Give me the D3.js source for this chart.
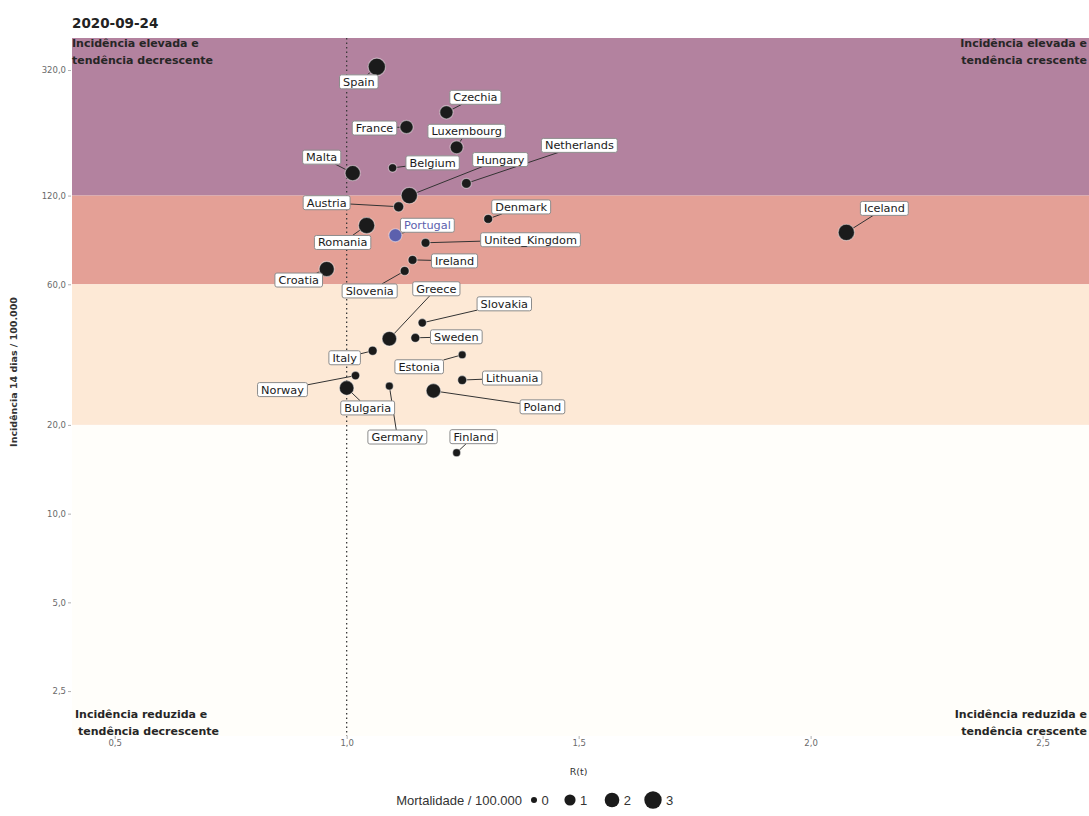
<!DOCTYPE html>
<html>
<head>
<meta charset="utf-8">
<script src="https://cdn.jsdelivr.net/npm/d3@7"></script>
<style>
  body { margin: 0; background: #fff; }
  svg { display: block; }
</style>
</head>
<body>
<svg id="chart" width="1089" height="816"></svg>
<script>
// ---- Data: R(t), 14-day incidence and mortality per 100 000, 2020-09-24 ----
const dateLabel = "2020-09-24";
const countries = ["Spain", "Czechia", "France", "Luxembourg", "Malta", "Belgium", "Netherlands",
  "Hungary", "Austria", "Romania", "Portugal", "Denmark", "United_Kingdom", "Ireland", "Croatia",
  "Slovenia", "Iceland", "Greece", "Slovakia", "Sweden", "Italy", "Estonia", "Norway", "Lithuania",
  "Bulgaria", "Germany", "Poland", "Finland"];
const rt = [1.065, 1.215, 1.129, 1.237, 1.013, 1.099, 1.258,
  1.135, 1.112, 1.043, 1.105, 1.305, 1.170, 1.142, 0.957,
  1.125, 2.077, 1.092, 1.163, 1.148, 1.056, 1.249, 1.019, 1.249,
  1.000, 1.092, 1.187, 1.237];
const incidence = [328, 230, 205, 175, 143, 149, 132,
  120, 110, 95, 88, 100, 83, 72.6, 67.6,
  66.6, 90, 39.2, 44.4, 39.5, 35.7, 34.6, 29.4, 28.4,
  26.7, 27.1, 26.1, 16.1];
const mortality = [3.0, 1.6, 1.6, 1.5, 2.2, 0.4, 0.7,
  2.6, 0.8, 2.6, 1.5, 0.5, 0.5, 0.5, 2.2,
  0.5, 2.6, 2.0, 0.4, 0.5, 0.5, 0.3, 0.4, 0.5,
  2.0, 0.3, 2.0, 0.3];
const highlighted = "Portugal";

const yTickValues = [320, 120, 60, 20, 10, 5, 2.5];
const xTickValues = [0.5, 1.0, 1.5, 2.0, 2.5];
const incidenceThresholds = [120, 60, 20];
const legendValues = [0, 1, 2, 3];

// ---- Layout ----
const panel = { left: 72, right: 1089, top: 38, bottom: 736 };
const xDomain = [0.408, 2.6];
const yDomain = [411, 1.76];

// label placement (pixel offset of each label's centre from its point)
const labelOffset = {
  Spain: [-18, 15], Czechia: [29, -15], France: [-32, 1], Luxembourg: [10, -16],
  Malta: [-31, -16], Belgium: [40, -5], Netherlands: [113, -38], Hungary: [91, -36],
  Austria: [-72, -4], Romania: [-24, 17], Portugal: [32, -10], Denmark: [33, -12],
  United_Kingdom: [105, -3], Ireland: [42, 1], Croatia: [-28, 11], Slovenia: [-35, 20],
  Iceland: [38, -24], Greece: [47, -50], Slovakia: [82, -19], Sweden: [41, -1],
  Italy: [-28, 7], Estonia: [-43, 12], Norway: [-73, 14], Lithuania: [50, -2],
  Bulgaria: [21, 20], Germany: [8, 51], Poland: [109, 16], Finland: [17, -16]
};

const bandColors = ["#b3829f", "#e4a096", "#fde9d6", "#fffefa"];
const pointColor = "#1b1b1b";
const highlightColor = "#5c60ad";
const font = "'DejaVu Sans', sans-serif";

const locale = d3.formatLocale({ decimal: ",", thousands: ".", grouping: [3], currency: ["", " €"] });
const fmt1 = locale.format(".1f");

const svg = d3.select("#chart");

const x = d3.scaleLinear().domain(xDomain).range([panel.left, panel.right]);
const y = d3.scaleLog().domain(yDomain).range([panel.top, panel.bottom]);
const r = d3.scaleRadial().domain([0, 3]).range([3, 8.7]);

svg.append("clipPath").attr("id", "panelClip")
  .append("rect")
  .attr("x", panel.left).attr("y", panel.top)
  .attr("width", panel.right - panel.left).attr("height", panel.bottom - panel.top);

// ---- Incidence bands ----
const bandEdges = [yDomain[0], ...incidenceThresholds, yDomain[1]];
const bands = d3.range(bandEdges.length - 1).map(i => ({ hi: bandEdges[i], lo: bandEdges[i + 1], color: bandColors[i] }));
svg.append("g").attr("clip-path", "url(#panelClip)")
  .selectAll("rect").data(bands).join("rect")
  .attr("x", panel.left)
  .attr("width", panel.right - panel.left)
  .attr("y", d => y(d.hi))
  .attr("height", d => y(d.lo) - y(d.hi))
  .attr("fill", d => d.color);

// ---- R(t) = 1 reference line ----
svg.append("line")
  .attr("x1", x(1)).attr("x2", x(1))
  .attr("y1", panel.top).attr("y2", panel.bottom)
  .attr("stroke", "#3a3a3a").attr("stroke-width", 1.3)
  .attr("stroke-dasharray", "1.5,3");

// ---- Axes ----
const yAxis = d3.axisLeft(y).tickValues(yTickValues).tickFormat(d => fmt1(d)).tickSize(3).tickPadding(2);
const gy = svg.append("g").attr("transform", `translate(${panel.left - 1},0)`).call(yAxis);
const xAxis = d3.axisBottom(x).tickValues(xTickValues).tickFormat(d => fmt1(d)).tickSize(3).tickPadding(1);
const gx = svg.append("g").attr("transform", `translate(0,${panel.bottom})`).call(xAxis);
[gx, gy].forEach(g => {
  g.select(".domain").remove();
  g.selectAll(".tick line").attr("stroke", "#b0b0b0");
  g.selectAll(".tick text").attr("fill", "#6a6a6a").attr("font-family", font).attr("font-size", 8.5);
});

svg.append("text")
  .attr("x", x(1.5)).attr("y", 775)
  .attr("text-anchor", "middle")
  .attr("font-family", font).attr("font-size", 9.5).attr("fill", "#333")
  .text("R(t)");

svg.append("text")
  .attr("transform", `translate(17,${(panel.top + panel.bottom) / 2 - 15}) rotate(-90)`)
  .attr("text-anchor", "middle")
  .attr("font-family", font).attr("font-size", 9.5).attr("font-weight", "bold").attr("fill", "#333")
  .text("Incidência 14 dias / 100.000");

// ---- Title ----
svg.append("text")
  .attr("x", panel.left).attr("y", 28)
  .attr("font-family", font).attr("font-size", 13.5).attr("font-weight", "bold").attr("fill", "#222")
  .text(dateLabel);

// ---- Quadrant notes ----
const notes = [
  { lines: ["Incidência elevada e", "tendência decrescente"], x: 72, y: 47, anchor: "start", dx: [0, 0] },
  { lines: ["Incidência elevada e", "tendência crescente"], x: 1087, y: 47, anchor: "end", dx: [0, 0] },
  { lines: ["Incidência reduzida e", "tendência decrescente"], x: 75, y: 718, anchor: "start", dx: [0, 3] },
  { lines: ["Incidência reduzida e", "tendência crescente"], x: 1087, y: 718, anchor: "end", dx: [0, 0] }
];
notes.forEach(n => {
  n.lines.forEach((line, i) => {
    svg.append("text")
      .attr("x", n.x + n.dx[i]).attr("y", n.y + i * 17)
      .attr("text-anchor", n.anchor)
      .attr("font-family", font).attr("font-size", 11).attr("font-weight", "bold").attr("fill", "#262626")
      .text(line);
  });
});

// ---- Points and labels ----
const rows = countries.map((c, i) => ({
  name: c, rt: rt[i], inc: incidence[i], mort: mortality[i],
  px: x(rt[i]), py: y(incidence[i])
}));

const segLayer = svg.append("g");
const pointLayer = svg.append("g");
const labelLayer = svg.append("g");

const labelH = 14, padX = 3.5;
rows.forEach(d => {
  const off = labelOffset[d.name] || [20, -10];
  const cx = d.px + off[0], cy = d.py + off[1];
  const g = labelLayer.append("g").attr("transform", `translate(${cx},${cy})`);
  const rect = g.append("rect");
  const t = g.append("text")
    .attr("text-anchor", "middle").attr("dy", "0.35em")
    .attr("font-family", font).attr("font-size", 11.3)
    .attr("fill", d.name === highlighted ? highlightColor : "#1a1a1a")
    .text(d.name);
  const w = t.node().getComputedTextLength() + 2 * padX;
  rect.attr("x", -w / 2).attr("y", -labelH / 2).attr("width", w).attr("height", labelH)
    .attr("rx", 2).attr("fill", "#fff").attr("stroke", "#8c8c8c").attr("stroke-width", 1);

  // segment from label edge to point
  const dx = d.px - cx, dy = d.py - cy;
  const tx = dx === 0 ? Infinity : (w / 2) / Math.abs(dx);
  const ty = dy === 0 ? Infinity : (labelH / 2) / Math.abs(dy);
  const tEdge = Math.min(tx, ty);
  if (tEdge < 1) {
    segLayer.append("line")
      .attr("x1", cx + dx * tEdge).attr("y1", cy + dy * tEdge)
      .attr("x2", d.px).attr("y2", d.py)
      .attr("stroke", "#333").attr("stroke-width", 1);
  }
});

pointLayer.selectAll("circle").data(rows).join("circle")
  .attr("cx", d => d.px).attr("cy", d => d.py)
  .attr("r", d => r(d.mort))
  .attr("fill", d => d.name === highlighted ? highlightColor : pointColor)
  .attr("stroke", "#ffffff").attr("stroke-opacity", 0.45).attr("stroke-width", 1.2);

// ---- Size legend ----
const legendFont = "'Liberation Sans', Arial, sans-serif";
const legend = svg.append("g").attr("transform", "translate(0,800)");
legend.append("text")
  .attr("x", 522).attr("y", 0).attr("dy", "0.36em")
  .attr("text-anchor", "end")
  .attr("font-family", legendFont).attr("font-size", 13).attr("fill", "#333")
  .text("Mortalidade / 100.000");
const legendX = [534, 570, 612, 653];
legendValues.forEach((v, i) => {
  legend.append("circle").attr("cx", legendX[i]).attr("cy", 0).attr("r", r(v)).attr("fill", pointColor);
  legend.append("text")
    .attr("x", legendX[i] + r(v) + 8).attr("y", 0).attr("dy", "0.36em")
    .attr("text-anchor", "middle")
    .attr("font-family", legendFont).attr("font-size", 13).attr("fill", "#333")
    .text(v);
});
</script>
</body>
</html>
